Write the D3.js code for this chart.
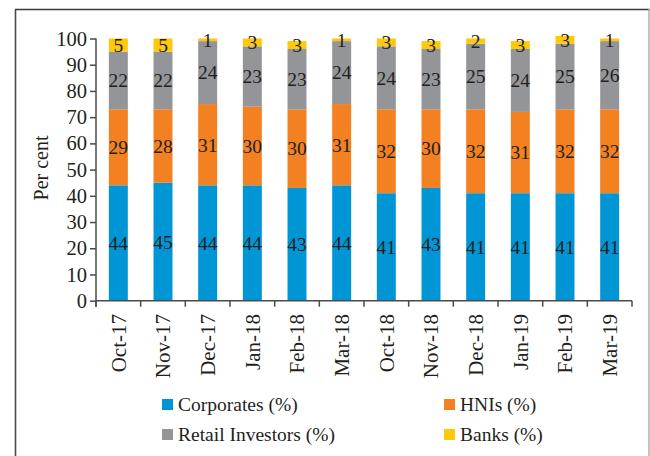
<!DOCTYPE html>
<html>
<head>
<meta charset="utf-8">
<script src="https://cdn.jsdelivr.net/npm/d3@7"></script>
<style>
  html, body { margin: 0; padding: 0; background: #fff; }
  svg { display: block; font-family: "Liberation Serif", "DejaVu Serif", serif; }
</style>
</head>
<body>
<svg id="chart" width="650" height="456"></svg>
<script>
// Investor-wise share of holdings, per cent
const months = ["Oct-17", "Nov-17", "Dec-17", "Jan-18", "Feb-18", "Mar-18",
                "Oct-18", "Nov-18", "Dec-18", "Jan-19", "Feb-19", "Mar-19"];
const corporates = [44, 45, 44, 44, 43, 44, 41, 43, 41, 41, 41, 41];
const hnis       = [29, 28, 31, 30, 30, 31, 32, 30, 32, 31, 32, 32];
const retail     = [22, 22, 24, 23, 23, 24, 24, 23, 25, 24, 25, 26];
const banks      = [5, 5, 1, 3, 3, 1, 3, 3, 2, 3, 3, 1];
const yTicks     = [0, 10, 20, 30, 40, 50, 60, 70, 80, 90, 100];

const seriesDefs = [
  { key: "corp",   name: "Corporates (%)",        values: corporates, color: "#0096d6" },
  { key: "hni",    name: "HNIs (%)",              values: hnis,       color: "#f38121" },
  { key: "retail", name: "Retail Investors (%)",  values: retail,     color: "#949598" },
  { key: "banks",  name: "Banks (%)",             values: banks,      color: "#fec80c" }
];

const rows = months.map((m, i) => {
  const r = { month: m };
  seriesDefs.forEach(s => { r[s.key] = s.values[i]; });
  return r;
});

const svg = d3.select("#chart");
const axisColor = "#4a4a4a";
const textColor = "#231f20";

// outer frame
svg.append("line").attr("x1", 15.5).attr("x2", 15.5).attr("y1", 9.5).attr("y2", 456)
  .attr("stroke", "#4a4a4a").attr("stroke-width", 1.6);
svg.append("line").attr("x1", 15).attr("x2", 649.5).attr("y1", 9.5).attr("y2", 9.5)
  .attr("stroke", "#3a3a3a").attr("stroke-width", 1.4);
svg.append("line").attr("x1", 649).attr("x2", 649).attr("y1", 9).attr("y2", 456)
  .attr("stroke", "#aaaaaa").attr("stroke-width", 1.4);

const x = d3.scaleBand().domain(months).range([96, 632])
  .paddingInner(0.575).paddingOuter(0.2875);
const y = d3.scaleLinear().domain([0, 100]).range([300.7, 38.5]);

const stack = d3.stack().keys(seriesDefs.map(s => s.key));
const stacked = stack(rows);

const g = svg.append("g");
stacked.forEach((layer, li) => {
  const def = seriesDefs[li];
  g.selectAll(null).data(layer).enter().append("rect")
    .attr("x", d => x(d.data.month))
    .attr("width", x.bandwidth())
    .attr("y", d => y(d[1]))
    .attr("height", d => y(d[0]) - y(d[1]))
    .attr("fill", def.color);
});

// value labels
stacked.forEach((layer, li) => {
  const def = seriesDefs[li];
  g.selectAll(null).data(layer).enter().append("text")
    .attr("x", d => x(d.data.month) + x.bandwidth() / 2)
    .attr("y", d => y((d[0] + d[1]) / 2))
    .attr("dy", "0.35em")
    .attr("text-anchor", "middle")
    .attr("font-size", 19.5)
    .attr("fill", textColor)
    .text(d => d.data[def.key]);
});

// y axis
const yAxis = d3.axisLeft(y).tickValues(yTicks).tickSize(6).tickPadding(3);
const yg = svg.append("g").attr("transform", "translate(96,0)").call(yAxis);
yg.select(".domain").attr("stroke", axisColor).attr("stroke-width", 1.5)
  .attr("d", "M0," + y(100) + "V" + (y(0) + 6));
yg.selectAll(".tick line").attr("stroke", axisColor).attr("stroke-width", 1.5);
yg.selectAll(".tick text").attr("font-size", 20.5).attr("fill", textColor)
  .attr("font-family", "Liberation Serif, serif");

// x axis: ticks on category boundaries
const boundaries = months.map(m => x(m) - x.step() * x.paddingInner() / 2)
  .concat([x.range()[1]]);
svg.append("line").attr("x1", 96).attr("x2", 632).attr("y1", y(0)).attr("y2", y(0))
  .attr("stroke", axisColor).attr("stroke-width", 1.5);
svg.selectAll(null).data(boundaries).enter().append("line")
  .attr("x1", d => d).attr("x2", d => d)
  .attr("y1", y(0)).attr("y2", y(0) + 6)
  .attr("stroke", axisColor).attr("stroke-width", 1.5);

svg.selectAll(null).data(months).enter().append("text")
  .attr("transform", d => "translate(" + (x(d) + x.bandwidth() / 2) + "," + 314 + ") rotate(-90)")
  .attr("dy", "0.35em")
  .attr("text-anchor", "end")
  .attr("font-size", 21)
  .attr("fill", textColor)
  .text(d => d);

// y axis title
svg.append("text")
  .attr("transform", "translate(41," + 168 + ") rotate(-90)")
  .attr("dy", "0.35em")
  .attr("text-anchor", "middle")
  .attr("font-size", 20)
  .attr("fill", textColor)
  .text("Per cent");

// legend
const legendPos = [
  { x: 162, y: 399 }, { x: 444, y: 399 },
  { x: 162, y: 429 }, { x: 444, y: 429 }
];
const leg = svg.selectAll(".legend").data(seriesDefs).enter().append("g")
  .attr("class", "legend")
  .attr("transform", (d, i) => "translate(" + legendPos[i].x + "," + legendPos[i].y + ")");
leg.append("rect").attr("width", 11).attr("height", 11).attr("fill", d => d.color);
leg.append("text").attr("x", 16).attr("y", 12)
  .attr("font-size", 19.5).attr("fill", textColor)
  .text(d => d.name);
</script>
</body>
</html>
